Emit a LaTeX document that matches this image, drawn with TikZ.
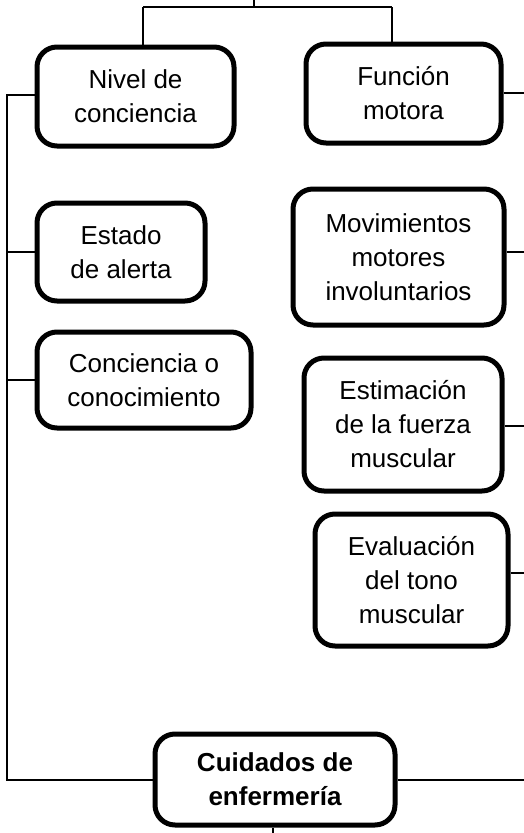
\documentclass[tikz,border=0pt]{standalone}
\usepackage{fontspec}
\setmainfont{Liberation Sans}
\begin{document}
\begin{tikzpicture}[x=1pt,y=-1pt,
  box/.style={draw=black, line width=5pt, rounded corners=20pt, align=center,
    inner sep=0pt, font=\fontsize{26}{34}\selectfont, fill=white},
  conn/.style={draw=black, line width=1.7pt}]
\useasboundingbox (0,0) rectangle (524,833);
% boxes
\node[box, minimum width=197pt, minimum height=99pt] (nivel) at (135.5,96.5) {Nivel de\\conciencia};
\node[box, minimum width=195pt, minimum height=99pt] (funcion) at (403.5,93.5) {Función\\motora};
\node[box, minimum width=168pt, minimum height=98pt] (estado) at (121,252) {Estado\\de alerta};
\node[box, minimum width=214pt, minimum height=96pt] (conc) at (144,380) {Conciencia o\\conocimiento};
\node[box, minimum width=211pt, minimum height=136pt] (mov) at (398.5,257) {Movimientos\\motores\\involuntarios};
\node[box, minimum width=198pt, minimum height=133pt] (est) at (403,424.5) {Estimación\\de la fuerza\\muscular};
\node[box, minimum width=193pt, minimum height=132pt] (eva) at (411.5,580) {Evaluación\\del tono\\muscular};
\node[box, minimum width=240pt, minimum height=91pt, font=\fontsize{26}{34}\selectfont\bfseries] (cuid) at (275,779.5) {Cuidados de\\enfermería};
% top connectors
\coordinate (t0) at (254,0);
\coordinate (t1) at (254,7);
\coordinate (hl) at (143,7);
\coordinate (hr) at (392,7);
\draw[conn] (t0) -- (t1);
\draw[conn] (hl) -- (hr);
\draw[conn] (hl) -- (hl |- nivel.north);
\draw[conn] (hr) -- (hr |- funcion.north);
% left spine
\coordinate (s0) at (7,95);
\coordinate (s1) at (7,780);
\draw[conn] (nivel.west |- s0) -- (s0) -- (s1) -- (cuid.west |- s1);
\draw[conn] (estado.west) -- (estado.west -| s0);
\draw[conn] (conc.west) -- (conc.west -| s0);
% right stubs
\coordinate (r1) at (524,93);
\coordinate (r2) at (524,252);
\coordinate (r3) at (524,426);
\coordinate (r4) at (524,573);
\coordinate (r5) at (524,780);
\draw[conn] (funcion.east |- r1) -- (r1);
\draw[conn] (mov.east |- r2) -- (r2);
\draw[conn] (est.east |- r3) -- (r3);
\draw[conn] (eva.east |- r4) -- (r4);
\draw[conn] (cuid.east |- r5) -- (r5);
% bottom
\coordinate (b0) at (273,833);
\draw[conn] (cuid.south -| b0) -- (b0);
\end{tikzpicture}
\end{document}
